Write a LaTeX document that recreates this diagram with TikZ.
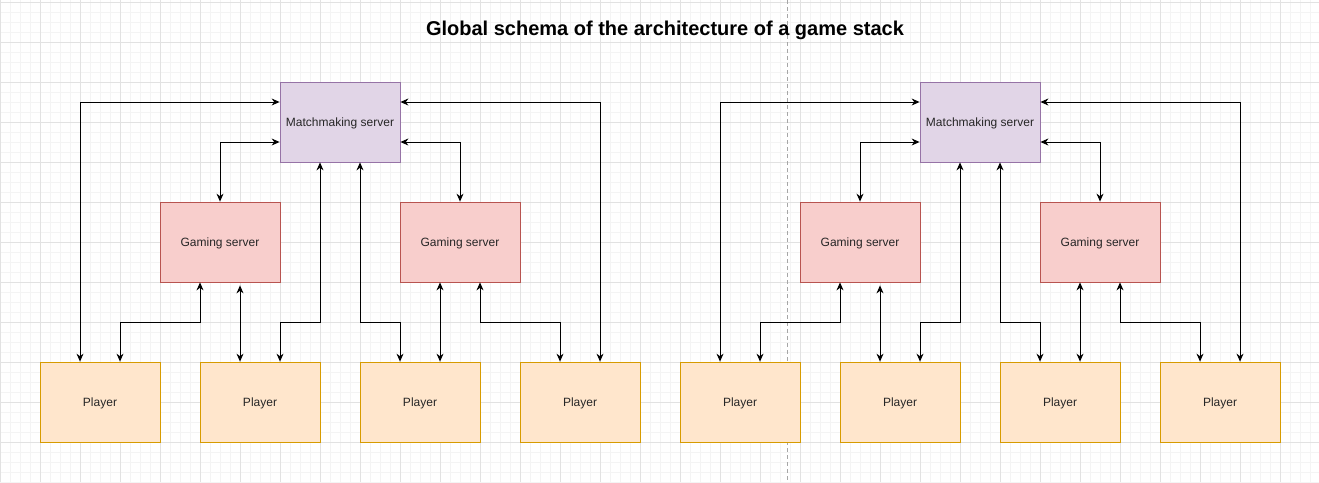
\documentclass[tikz,border=0pt]{standalone}
\usepackage{fontspec}
\setmainfont{Liberation Sans}
\usetikzlibrary{arrows.meta}
\definecolor{mmfill}{HTML}{E1D5E7}
\definecolor{mmline}{HTML}{9673A6}
\definecolor{gsfill}{HTML}{F8CECC}
\definecolor{gsline}{HTML}{B85450}
\definecolor{plfill}{HTML}{FFE6CC}
\definecolor{plline}{HTML}{D79B00}
\definecolor{minorgrid}{HTML}{F4F4F4}
\definecolor{majorgrid}{HTML}{E2E2E2}
\tikzset{
  box/.style={draw, line width=0.8pt, minimum width=120pt, minimum height=80pt, inner sep=0pt,
    font=\fontsize{12}{14}\selectfont, text=black!85, text height=8.6pt, text depth=0pt},
  mmbox/.style={box, fill=mmfill, draw=mmline},
  gsbox/.style={box, fill=gsfill, draw=gsline},
  plbox/.style={box, fill=plfill, draw=plline},
  arr/.style={line width=1pt, {Stealth[length=8pt,width=7pt]}-{Stealth[length=8pt,width=7pt]}},
  gridminor/.style={draw=minorgrid, line width=0.8pt},
  gridmajor/.style={draw=majorgrid, line width=0.8pt},
}
\begin{document}
\begin{tikzpicture}[x=1pt,y=-1pt]
\useasboundingbox (0,0) rectangle (1319,482);
\fill[white] (0,0) rectangle (1319,482);
\foreach \x in {0,10,...,1310} \draw[gridminor] (\x,0) -- (\x,482);
\foreach \y in {2,12,...,482} \draw[gridminor] (0,\y) -- (1319,\y);
\foreach \x in {0,40,...,1300} \draw[gridmajor] (\x,0) -- (\x,482);
\foreach \y in {2,42,...,442} \draw[gridmajor] (0,\y) -- (1319,\y);
\draw[gray!70, line width=0.8pt, dash pattern=on 4pt off 3pt] (787.5,0) -- (787.5,482);

\node[font=\fontsize{20}{24}\selectfont\bfseries, text height=14.4pt, text depth=0pt, inner sep=0pt] (title) at (665,28) {Global schema of the architecture of a game stack};

\foreach \g/\ox in {a/0,b/640} {
  \node[mmbox] (mm\g) at (\ox+340,122) {Matchmaking server};
  \node[gsbox] (gl\g) at (\ox+220,242) {Gaming server};
  \node[gsbox] (gr\g) at (\ox+460,242) {Gaming server};
  \node[plbox] (p1\g) at (\ox+100,402) {Player};
  \node[plbox] (p2\g) at (\ox+260,402) {Player};
  \node[plbox] (p3\g) at (\ox+420,402) {Player};
  \node[plbox] (p4\g) at (\ox+580,402) {Player};
  \draw[arr] ([xshift=-20pt]p1\g.north) |- ([yshift=20pt]mm\g.west);
  \draw[arr] ([xshift=20pt]p4\g.north) |- ([yshift=20pt]mm\g.east);
  \draw[arr] ([yshift=-20pt]mm\g.west) -| (gl\g.north);
  \draw[arr] ([yshift=-20pt]mm\g.east) -| (gr\g.north);
  \draw[arr] ([xshift=-20pt]gl\g.south) -- ++(0,40) -| ([xshift=20pt]p1\g.north);
  \draw[arr] ([xshift=20pt,yshift=-3pt]gl\g.south) -- ([xshift=-20pt]p2\g.north);
  \draw[arr] ([xshift=-20pt]mm\g.south) -- ++(0,160) -| ([xshift=20pt]p2\g.north);
  \draw[arr] ([xshift=20pt]mm\g.south) -- ++(0,160) -| ([xshift=-20pt]p3\g.north);
  \draw[arr] ([xshift=-20pt]gr\g.south) -- ([xshift=20pt]p3\g.north);
  \draw[arr] ([xshift=20pt]gr\g.south) -- ++(0,40) -| ([xshift=-20pt]p4\g.north);
}
\end{tikzpicture}
\end{document}
